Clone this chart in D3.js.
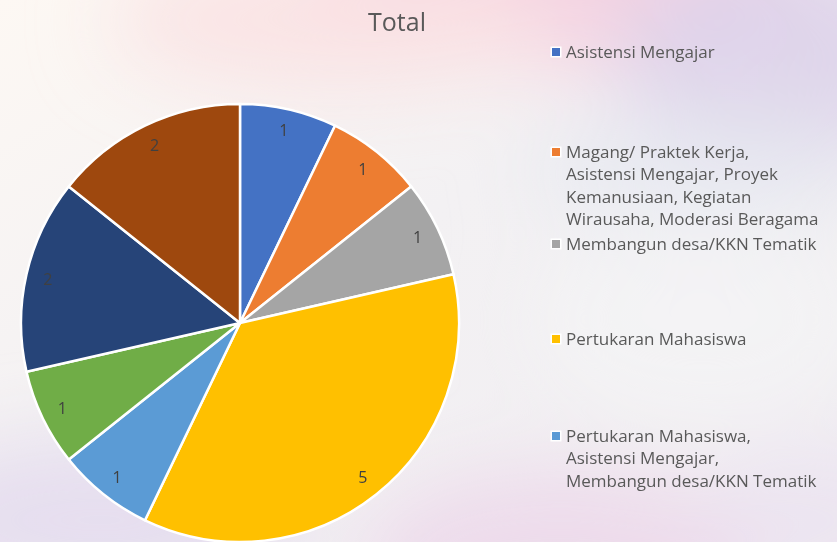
<!DOCTYPE html>
<html>
<head>
<meta charset="utf-8">
<script src="https://cdn.jsdelivr.net/npm/d3@7"></script>
<style>
  body { margin: 0; overflow: hidden; }
  #chart { width: 837px; height: 542px; }
  text { font-family: "Open Sans", "Noto Sans", sans-serif; }
</style>
</head>
<body>
<div id="chart"></div>
<script>
// categories in pie order (clockwise from 12 o'clock); the last three are cut off the legend
const categories = [
    "Asistensi Mengajar",
    "Magang/ Praktek Kerja, Asistensi Mengajar, Proyek Kemanusiaan, Kegiatan Wirausaha, Moderasi Beragama",
    "Membangun desa/KKN Tematik",
    "Pertukaran Mahasiswa",
    "Pertukaran Mahasiswa, Asistensi Mengajar, Membangun desa/KKN Tematik",
    "(kategori 6)",
    "(kategori 7)",
    "(kategori 8)"
];
const values = [1, 1, 1, 5, 1, 1, 2, 2];
const colors = ["#4472C4", "#ED7D31", "#A5A5A5", "#FFC000", "#5B9BD5", "#70AD47", "#264478", "#9E480E"];
// legend lines as wrapped in the original
const legendLines = [
    ["Asistensi Mengajar"],
    ["Magang/ Praktek Kerja,", "Asistensi Mengajar, Proyek", "Kemanusiaan, Kegiatan", "Wirausaha, Moderasi Beragama"],
    ["Membangun desa/KKN Tematik"],
    ["Pertukaran Mahasiswa"],
    ["Pertukaran Mahasiswa,", "Asistensi Mengajar,", "Membangun desa/KKN Tematik"]
];
const legendTop = [52, 152, 244, 339, 436];

const width = 837, height = 542;
const cx = 240, cy = 323, radius = 219;

const svg = d3.select("#chart").append("svg")
    .attr("width", width)
    .attr("height", height);

// background wash
const defs = svg.append("defs");
const base = defs.append("linearGradient").attr("id", "bg")
    .attr("x1", 0).attr("y1", 0).attr("x2", 1).attr("y2", 1);
base.append("stop").attr("offset", "0%").attr("stop-color", "#fdf8f3");
base.append("stop").attr("offset", "45%").attr("stop-color", "#f3f1f3");
base.append("stop").attr("offset", "100%").attr("stop-color", "#f1eef2");

const blur = defs.append("filter").attr("id", "soft")
    .attr("x", "-50%").attr("y", "-50%").attr("width", "200%").attr("height", "200%");
blur.append("feGaussianBlur").attr("stdDeviation", 40);

svg.append("rect").attr("width", width).attr("height", height).attr("fill", "url(#bg)");

const blobs = [
    {x: 560, y: -20, rx: 260, ry: 90, c: "#f4cfe0", o: 0.9},
    {x: 780, y: 60, rx: 160, ry: 110, c: "#ddd3ea", o: 0.9},
    {x: 330, y: 20, rx: 220, ry: 70, c: "#f9e2e3", o: 0.9},
    {x: 700, y: 170, rx: 170, ry: 60, c: "#e6e8f0", o: 0.8},
    {x: 100, y: 520, rx: 200, ry: 80, c: "#e4dcee", o: 0.9},
    {x: 560, y: 560, rx: 200, ry: 90, c: "#ecd6ea", o: 0.8},
    {x: 820, y: 520, rx: 120, ry: 80, c: "#eadff0", o: 0.6},
    {x: 700, y: 320, rx: 170, ry: 100, c: "#f4f4f5", o: 0.8}
];
svg.append("g").attr("filter", "url(#soft)")
    .selectAll("ellipse")
    .data(blobs)
    .enter()
    .append("ellipse")
    .attr("cx", d => d.x).attr("cy", d => d.y)
    .attr("rx", d => d.rx).attr("ry", d => d.ry)
    .attr("fill", d => d.c).attr("opacity", d => d.o);

// title
svg.append("text")
    .attr("x", 397)
    .attr("y", 31)
    .attr("text-anchor", "middle")
    .style("font-size", "25px")
    .attr("fill", "#595959")
    .text("Total");

// pie
const pie = d3.pie().sort(null).value(d => d);
const arc = d3.arc().innerRadius(0).outerRadius(radius);
const labelArc = d3.arc().innerRadius(radius * 0.9).outerRadius(radius * 0.9);

const g = svg.append("g").attr("transform", "translate(" + cx + "," + cy + ")");

const slices = pie(values);

g.selectAll("path")
    .data(slices)
    .enter()
    .append("path")
    .attr("d", arc)
    .attr("fill", (d, i) => colors[i])
    .attr("stroke", "#ffffff")
    .attr("stroke-width", 2.5)
    .attr("stroke-linejoin", "round");

g.selectAll(".label")
    .data(slices)
    .enter()
    .append("text")
    .attr("class", "label")
    .attr("transform", d => "translate(" + labelArc.centroid(d) + ")")
    .attr("text-anchor", "middle")
    .attr("dy", "0.35em")
    .style("font-size", "16px")
    .attr("fill", "#404040")
    .text(d => d.data);

// legend (only the first five entries fit)
const legend = svg.append("g");
const items = legend.selectAll("g")
    .data(legendLines)
    .enter()
    .append("g")
    .attr("transform", (d, i) => "translate(552," + legendTop[i] + ")");

items.append("rect")
    .attr("x", -1.5).attr("y", -5.5)
    .attr("width", 11).attr("height", 11)
    .attr("fill", "#ffffff");
items.append("rect")
    .attr("x", 0).attr("y", -4)
    .attr("width", 8).attr("height", 8)
    .attr("fill", (d, i) => colors[i]);

items.append("text")
    .attr("x", 14)
    .attr("y", 0)
    .style("font-size", "17px")
    .attr("fill", "#595959")
    .selectAll("tspan")
    .data(d => d)
    .enter()
    .append("tspan")
    .attr("x", 14)
    .attr("y", (d, i) => i * 22.5)
    .attr("dy", "0.35em")
    .text(d => d);
</script>
</body>
</html>
